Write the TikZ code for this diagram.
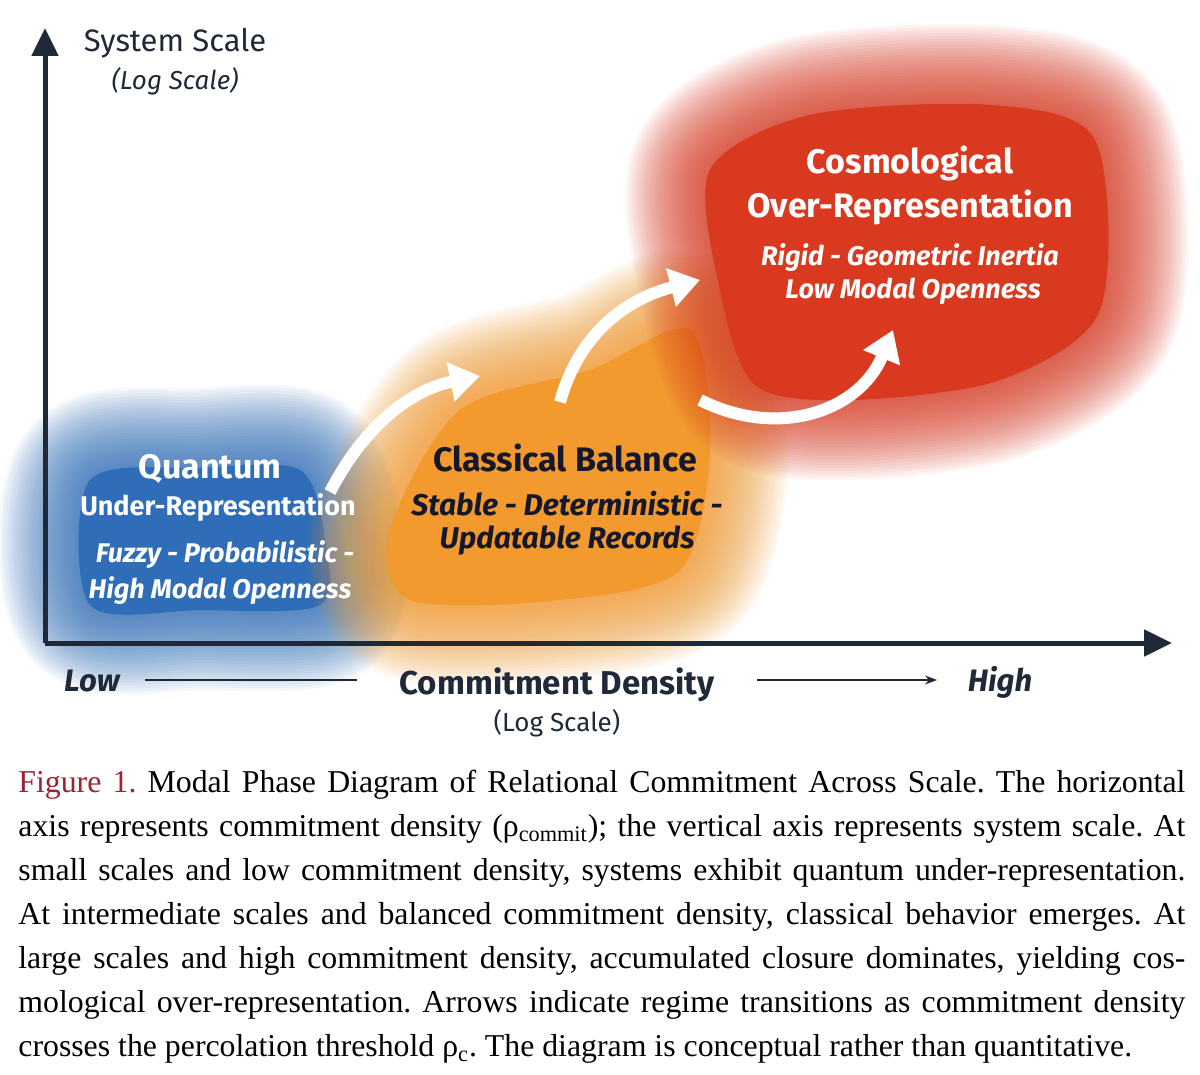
\documentclass[tikz,border=0pt]{standalone}
\usepackage{fontspec}
\setmainfont{Liberation Serif}
\newfontfamily\diag{Fira Sans}
\usetikzlibrary{arrows.meta}
\definecolor{axiscol}{HTML}{1F2937}
\definecolor{qblue}{HTML}{2F6DB8}
\definecolor{corange}{HTML}{F29A2E}
\definecolor{rred}{HTML}{D8391F}
\definecolor{capred}{HTML}{9B2335}
\definecolor{darktxt}{HTML}{15172A}
\tikzset{
  lbl/.style={font=\diag\bfseries, inner sep=0pt, anchor=base},
  lblit/.style={font=\diag\bfseries\itshape, inner sep=0pt, anchor=base},
  big/.style={font=\diag\bfseries\fontsize{17}{20}\selectfont},
  mid/.style={font=\diag\bfseries\fontsize{13.5}{17}\selectfont},
  midit/.style={font=\diag\bfseries\itshape\fontsize{13.5}{16}\selectfont},
  trans/.style={white, line width=6pt, -{Triangle[length=15pt,width=19pt]}},
  axisline/.style={axiscol, line width=2.5pt, -{Triangle[length=14pt,width=13pt]}},
}
\begin{document}
\begin{tikzpicture}[x=0.5pt,y=-0.5pt]
\fill[white] (0,0) rectangle (1200,1075);
\useasboundingbox (0,0) rectangle (1200,1075);
% blobs
\def\blob#1#2{%
  \fill[#1] #2;
  \foreach \w in {160,154,...,4}{\draw[#1, line width=\w*0.5pt, opacity=0.05, line join=round] #2;}}
\blob{qblue}{plot[smooth cycle] coordinates {(90,480) (200,468) (300,470) (325,540) (320,605) (200,610) (90,605)}}
\blob{corange}{plot[smooth cycle] coordinates {(390,530) (460,410) (590,370) (690,330) (710,450) (680,570) (560,600) (410,600)}}
\blob{rred}{plot[smooth cycle] coordinates {(710,170) (810,115) (990,105) (1095,140) (1100,310) (1000,380) (850,400) (755,385) (720,290)}}
% axes
\coordinate (O) at (45,643);
\coordinate (ytop) at (45,28);
\coordinate (xend) at (1172,643);
\draw[axisline] (O) -- (ytop);
\draw[axisline] (O) -- (xend);
\node[lbl, font=\diag\fontsize{15.5}{18}\selectfont, text=axiscol] (ys) at (175,52) {System Scale};
\node[lbl, font=\diag\itshape\fontsize{13}{16}\selectfont, text=axiscol] (ysl) at (175,90) {(Log Scale)};
% region labels
\node[lbl, big, text=white] (q1) at (210,478) {Quantum};
\node[lbl, mid, text=white] (q2) at (218,515) {Under-Representation};
\node[lblit, midit, text=white] (q3) at (225,562) {Fuzzy - Probabilistic -};
\node[lblit, midit, text=white] (q4) at (220,598) {High Modal Openness};
\node[lbl, big, text=darktxt] (c1) at (565,471) {Classical Balance};
\node[lblit, font=\diag\bfseries\itshape\fontsize{15}{18}\selectfont, text=darktxt] (c2) at (567,515) {Stable - Deterministic -};
\node[lblit, font=\diag\bfseries\itshape\fontsize{15}{18}\selectfont, text=darktxt] (c3) at (567,548) {Updatable Records};
\node[lbl, big, text=white] (r1) at (910,174) {Cosmological};
\node[lbl, big, text=white] (r2) at (910,218) {Over-Representation};
\node[lblit, midit, text=white] (r3) at (910,266) {Rigid - Geometric Inertia};
\node[lblit, midit, text=white] (r4) at (913,299) {Low Modal Openness};
% transition arrows
\draw[trans] (330,492) .. controls (370,415) and (420,388) .. (480,376);
\draw[trans] (560,402) .. controls (580,330) and (630,298) .. (700,280);
\draw[trans] (700,400) .. controls (780,440) and (860,410) .. (893,330);
% x axis labels
\node[lblit, font=\diag\bfseries\itshape\fontsize{15.5}{18}\selectfont, text=axiscol] (low) at (92,691) {Low};
\node[lbl, font=\diag\bfseries\fontsize{16.5}{19}\selectfont, text=axiscol] (cd) at (557,694) {Commitment Density};
\node[lblit, font=\diag\bfseries\itshape\fontsize{15.5}{18}\selectfont, text=axiscol] (high) at (1000,691) {High};
\node[lbl, font=\diag\fontsize{13}{16}\selectfont, text=axiscol] (xsl) at (557,731) {(Log Scale)};
\coordinate (l1) at (145,680); \coordinate (l2) at (357,680);
\coordinate (l3) at (757,680); \coordinate (l4) at (937,680);
\draw[axiscol, line width=0.7pt] (l1) -- (l2);
\draw[axiscol, line width=0.7pt, -{Stealth[length=6pt,width=4.5pt]}] (l3) -- (l4);
% caption
\node[anchor=north west, inner sep=0pt, text width=583.5pt, font=\fontsize{15.9}{22}\selectfont, align=justify] (cap) at (18,770) {\frenchspacing
\textcolor{capred}{Figure 1.} Modal Phase Diagram of Relational Commitment Across Scale. The horizontal\linebreak
axis represents commitment density (ρ\textsubscript{commit}); the vertical axis represents system scale. At\linebreak
small scales and low commitment density, systems exhibit quantum under-representation.\linebreak
At intermediate scales and balanced commitment density, classical behavior emerges. At\linebreak
large scales and high commitment density, accumulated closure dominates, yielding cos-\linebreak
mological over-representation. Arrows indicate regime transitions as commitment density\linebreak
crosses the percolation threshold ρ\textsubscript{c}. The diagram is conceptual rather than quantitative.};
\end{tikzpicture}
\end{document}
